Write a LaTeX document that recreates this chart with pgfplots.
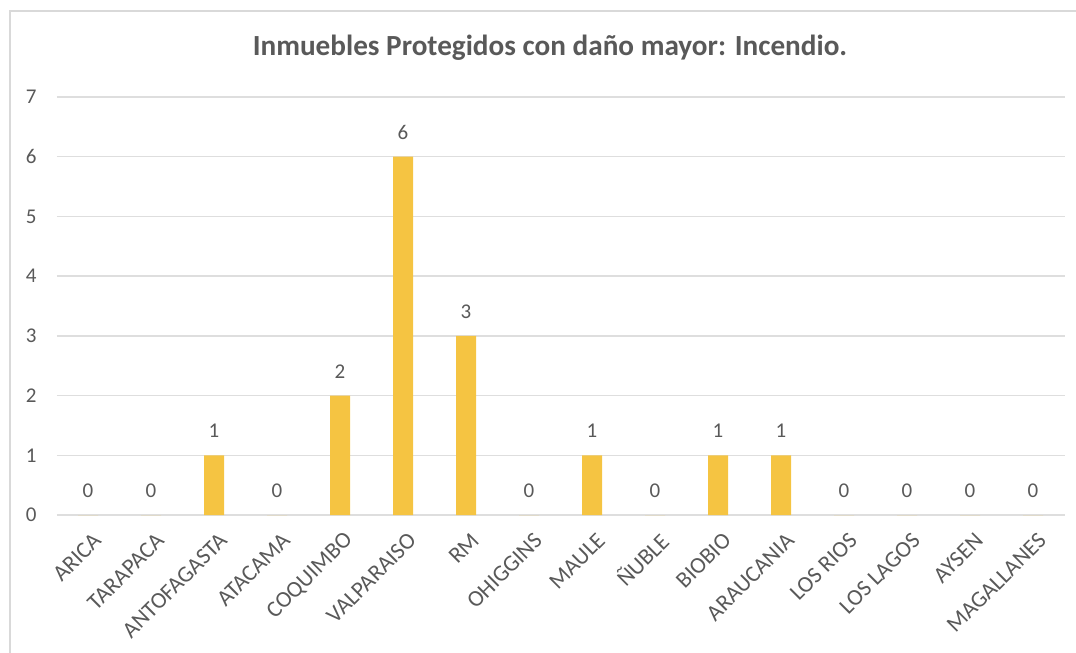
\documentclass[border=0pt]{standalone}
\usepackage{pgfplots}
\pgfplotsset{compat=1.18}
\usepackage{fontspec}
\setmainfont{Carlito}
\definecolor{barc}{RGB}{245,196,66}
\definecolor{txt}{RGB}{89,89,89}
\definecolor{gridc}{RGB}{222,222,222}
\definecolor{framec}{RGB}{217,217,217}
\begin{document}
\begin{tikzpicture}
\path[use as bounding box] (0,0) rectangle (538pt,326.5pt);
\draw[framec, line width=1pt] (5pt,0) -- (5pt,321pt) -- (538pt,321pt);
\node[txt, font=\fontsize{14.6}{17}\selectfont\bfseries] at (275pt,302.5pt) {Inmuebles Protegidos con daño mayor: Incendio.};
\begin{axis}[
  at={(28.25pt,69pt)}, anchor=south west,
  scale only axis, width=504pt, height=209pt,
  xmin=-0.5, xmax=15.5, ymin=0, ymax=7,
  ytick={0,1,...,7},
  xtick={0,...,15},
  xticklabels={ARICA,TARAPACA,ANTOFAGASTA,ATACAMA,COQUIMBO,VALPARAISO,RM,OHIGGINS,MAULE,ÑUBLE,BIOBIO,ARAUCANIA,LOS RIOS,LOS LAGOS,AYSEN,MAGALLANES},
  axis line style={draw=none},
  major tick length=0pt,
  ymajorgrids, grid style={gridc, line width=0.75pt},
  tick label style={txt, font=\fontsize{10.5}{12}\selectfont},
  /pgf/number format/assume math mode=true,
  yticklabel style={xshift=-6.5pt},
  xticklabel style={rotate=45, anchor=east, yshift=-11pt, xshift=-1pt, font=\fontsize{11.5}{13}\selectfont},
  ybar, bar width=10pt,
  nodes near coords,
  every node near coord/.append style={txt, font=\fontsize{10.5}{12}\selectfont, anchor=south, inner sep=0pt, yshift=8.5pt},
  clip=false,
]
\addplot[fill=barc, draw=none] coordinates {
(0,0) (1,0) (2,1) (3,0) (4,2) (5,6) (6,3) (7,0) (8,1) (9,0) (10,1) (11,1) (12,0) (13,0) (14,0) (15,0)
};
\end{axis}
\end{tikzpicture}
\end{document}
